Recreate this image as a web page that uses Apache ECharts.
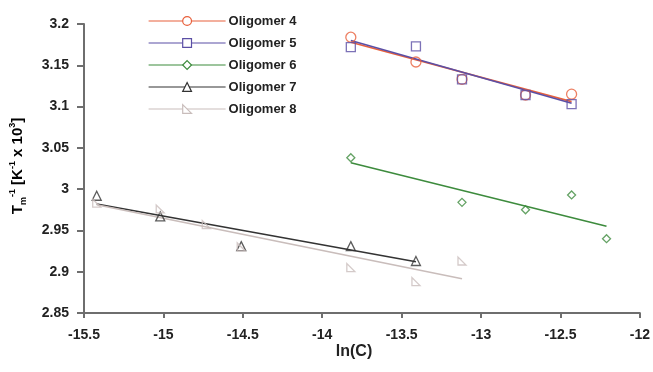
<!DOCTYPE html>
<html>
<head>
<meta charset="utf-8">
<script src="https://cdn.jsdelivr.net/npm/echarts@6/dist/echarts.min.js"></script>
<style>
html,body{margin:0;padding:0;background:#fff;}
#chart{width:653px;height:372px;}
</style>
</head>
<body>
<div id="chart"></div>
<script>
// ---- data ----
const seriesNames = ['Oligomer 4', 'Oligomer 5', 'Oligomer 6', 'Oligomer 7', 'Oligomer 8'];

const xO4 = [-13.82, -13.41, -13.12, -12.72, -12.43];
const yO4 = [3.184, 3.154, 3.133, 3.114, 3.115];
const xO5 = [-13.82, -13.41, -13.12, -12.72, -12.43];
const yO5 = [3.172, 3.173, 3.133, 3.114, 3.103];
const xO6 = [-13.82, -13.12, -12.72, -12.43, -12.21];
const yO6 = [3.038, 2.984, 2.975, 2.993, 2.940];
const xO7 = [-15.42, -15.02, -14.51, -13.82, -13.41];
const yO7 = [2.992, 2.967, 2.931, 2.931, 2.913];
const xO8 = [-15.42, -15.02, -14.73, -14.51, -13.82, -13.41, -13.12];
const yO8 = [2.983, 2.976, 2.957, 2.930, 2.905, 2.888, 2.913];

// fitted lines (end points)
const fitX4 = [-13.82, -12.43]; const fitY4 = [3.178, 3.106];
const fitX5 = [-13.82, -12.43]; const fitY5 = [3.180, 3.104];
const fitX6 = [-13.82, -12.21]; const fitY6 = [3.032, 2.955];
const fitX7 = [-15.42, -13.41]; const fitY7 = [2.982, 2.912];
const fitX8 = [-15.42, -13.12]; const fitY8 = [2.981, 2.8915];

const xTicks = {min: -15.5, max: -12, interval: 0.5};
const yTicks = {min: 2.85, max: 3.2, interval: 0.05};

// ---- styling ----
const colors = ['#e8603c', '#5b4fa5', '#3d8b3d', '#333333', '#c9bdbb'];
const symbols = ['circle', 'rect', 'diamond', 'triangle', 'path://M0,0L0,10L10,10Z'];
const sizes = [10, 9, 8, 9, 8];
const pts = [[xO4, yO4], [xO5, yO5], [xO6, yO6], [xO7, yO7], [xO8, yO8]];
const fits = [[fitX4, fitY4], [fitX5, fitY5], [fitX6, fitY6], [fitX7, fitY7], [fitX8, fitY8]];

const zip = (a, b) => a.map((v, i) => [v, b[i]]);
const series = [];
seriesNames.forEach((name, i) => {
  series.push({
    name: name, type: 'line', data: zip(fits[i][0], fits[i][1]),
    symbol: symbols[i], showSymbol: false, silent: true,
    lineStyle: {color: colors[i], width: 1.6},
    itemStyle: {color: colors[i]}, z: 2
  });
});
seriesNames.forEach((name, i) => {
  series.push({
    name: name, type: 'scatter', data: zip(pts[i][0], pts[i][1]),
    symbol: symbols[i], symbolSize: sizes[i], silent: true,
    itemStyle: {color: 'rgba(255,255,255,0)', borderColor: colors[i], borderWidth: 1.3}, z: 3
  });
});

const axisCol = '#6e6e6e';
const lblStyle = {fontFamily: 'Liberation Sans, Arial', fontWeight: 'bold', fontSize: 14, color: '#222'};

const chart = echarts.init(document.getElementById('chart'), null, {renderer: 'canvas'});
chart.setOption({
  animation: false,
  backgroundColor: '#fff',
  grid: {left: 84, top: 24, right: 6, bottom: 59, containLabel: false},
  legend: {
    orient: 'vertical', left: 143, top: 9, itemWidth: 77, itemHeight: 11, itemGap: 8,
    textStyle: {fontFamily: 'Liberation Sans, Arial', fontWeight: 'bold', fontSize: 13, color: '#222', lineHeight: 14, padding: [0, 0, 0, -2]},
    data: seriesNames.map((n, i) => ({
      name: n,
      itemStyle: {color: '#fff', borderColor: colors[i], borderWidth: 1.2},
      lineStyle: {color: colors[i], width: 1.2}
    })),
    selectedMode: false
  },
  xAxis: {
    type: 'value', min: xTicks.min, max: xTicks.max, interval: xTicks.interval,
    axisLine: {show: true, onZero: false, lineStyle: {color: axisCol, width: 2}},
    axisTick: {show: true, length: 5, lineStyle: {color: axisCol, width: 2}},
    splitLine: {show: false},
    axisLabel: Object.assign({margin: 15}, lblStyle)
  },
  yAxis: {
    type: 'value', min: yTicks.min, max: yTicks.max, interval: yTicks.interval,
    axisLine: {show: true, onZero: false, lineStyle: {color: axisCol, width: 2}},
    axisTick: {show: true, length: 7, lineStyle: {color: axisCol, width: 2}},
    splitLine: {show: false},
    axisLabel: Object.assign({margin: 15}, lblStyle)
  },
  graphic: [
    {
      type: 'text', x: 354, y: 352,
      style: {text: 'ln(C)', font: 'bold 16px "Liberation Sans", Arial', fill: '#222', align: 'center', verticalAlign: 'middle'}
    },
    {
      type: 'text', x: 18, y: 166, rotation: Math.PI / 2,
      style: {
        text: '{b|T}{sub|m}{sup|-1}{b| [K}{sup|-1}{b| x 10}{sup|3}{b|]}',
        align: 'center', verticalAlign: 'middle',
        rich: {
          b: {fontFamily: 'Liberation Sans', fontWeight: 'bold', fontSize: 15, color: '#222', lineHeight: 20, verticalAlign: 'middle'},
          sup: {fontFamily: 'Liberation Sans', fontWeight: 'bold', fontSize: 9, color: '#222', lineHeight: 11, verticalAlign: 'top'},
          sub: {fontFamily: 'Liberation Sans', fontWeight: 'bold', fontSize: 9, color: '#222', lineHeight: 9, verticalAlign: 'bottom'}
        }
      }
    }
  ],
  series: series
});
</script>
</body>
</html>
